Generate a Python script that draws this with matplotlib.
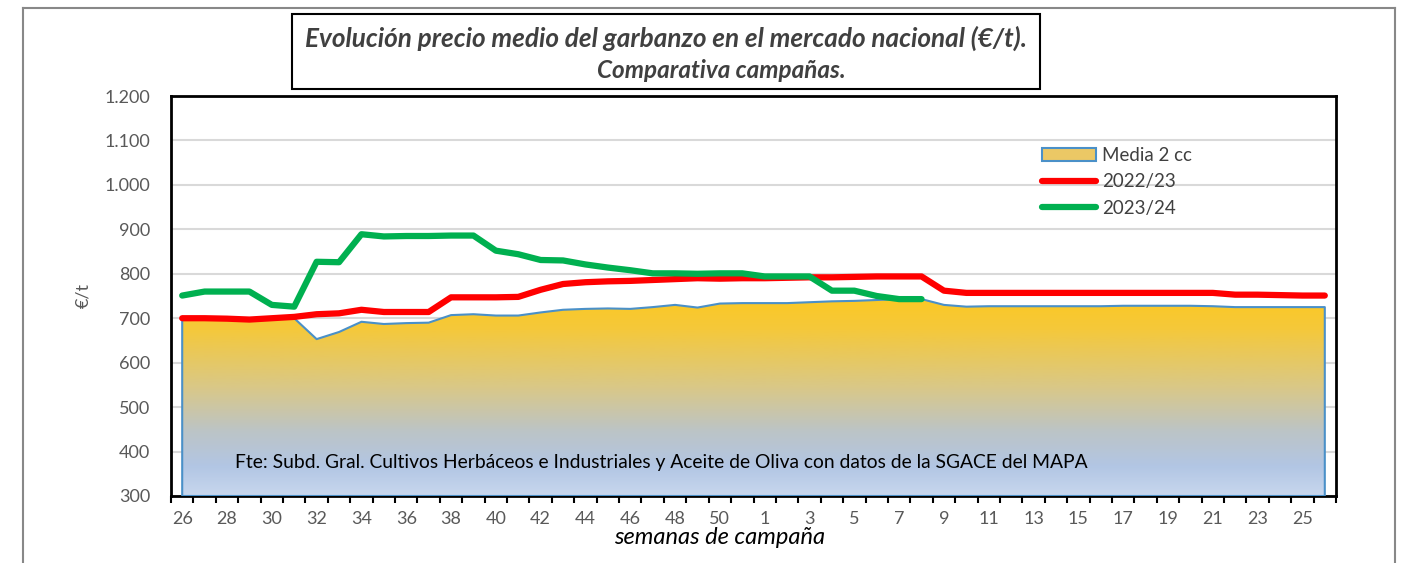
import matplotlib.pyplot as plt
import matplotlib.colors as mcolors
from matplotlib.patches import Rectangle, Patch
from matplotlib.lines import Line2D
import numpy as np

plt.rcParams['font.family'] = ['Lato', 'DejaVu Sans']

# semanas de campaña (26..51, 1..26)
semanas = list(range(26, 52)) + list(range(1, 27))

media_2cc = [700, 700, 700, 700, 700, 700, 653, 669, 692, 687, 689, 690,
             707, 709, 706, 706, 713, 719, 721, 722, 721, 725, 730, 724,
             733, 734, 734, 734, 736, 738, 739, 741, 743, 743, 730, 726,
             727, 727, 727, 727, 727, 727, 728, 728, 728, 728, 727,
             725, 725, 725, 725, 725]

c2022_23 = [700, 700, 699, 697, 700, 703, 709, 711, 719, 714, 714, 714,
            747, 747, 747, 748, 764, 777, 781, 783, 784, 786, 788, 790,
            789, 790, 790, 791, 792, 792, 793, 794, 794, 794, 762, 757,
            757, 757, 757, 757, 757, 757, 757, 757, 757, 757, 757,
            753, 753, 752, 751, 751]

c2023_24 = [751, 760, 760, 760, 730, 726, 827, 826, 889, 884, 885, 885,
            886, 886, 852, 844, 831, 830, 821, 814, 808, 801, 801, 800,
            801, 801, 794, 794, 794, 762, 762, 750, 743, 743]

yticks = list(range(300, 1201, 100))

x = np.arange(len(semanas))
green = np.full(len(semanas), np.nan)
green[:len(c2023_24)] = c2023_24

fig = plt.figure(figsize=(14.12, 5.63), dpi=100)
ax = fig.add_axes([171/1412, 1-496/563, (1336-171)/1412, (496-96)/563])

# area with gradient (yellow -> blue)
area = ax.fill_between(x, 300, media_2cc, facecolor='none',
                       edgecolor='#4a90c8', linewidth=1.5, zorder=3)
cmap = mcolors.LinearSegmentedColormap.from_list(
    'grad', [(0.0, '#c8d7ee'), (0.15, '#b2c6e4'), (0.33, '#bcc4c6'),
             (0.55, '#d9c888'), (0.85, '#f5c83a'), (1.0, '#fbc925')])
grad = np.linspace(0, 1, 256).reshape(-1, 1)
img = ax.imshow(grad, extent=[x[0], x[-1], 300, max(media_2cc)],
                origin='lower', aspect='auto', cmap=cmap, zorder=2)
img.set_clip_path(area.get_paths()[0], transform=ax.transData)

ax.plot(x, c2022_23, color='#ff0000', lw=4.5, solid_capstyle='round',
        zorder=4)
ax.plot(x, green, color='#00b050', lw=4.5, solid_capstyle='round',
        zorder=5)

ax.set_xlim(-0.5, len(semanas) - 0.5)
ax.set_ylim(300, 1200)
ax.set_yticks(yticks)
ax.set_yticklabels([f'{v:,}'.replace(',', '.') for v in yticks])
ax.set_xticks(x[::2])
ax.set_xticklabels([str(s) for s in semanas[::2]])
ax.set_xticks(np.arange(len(semanas) + 1) - 0.5, minor=True)
ax.tick_params(axis='x', which='major', length=0, pad=11,
               labelsize=13, labelcolor='#595959')
ax.tick_params(axis='x', which='minor', length=5, width=1.5,
               direction='out', color='black')
ax.tick_params(axis='y', length=0, pad=15, labelsize=13,
               labelcolor='#595959')
ax.grid(axis='y', color='#d9d9d9', lw=1.5, zorder=0)
ax.set_axisbelow(True)
for s in ax.spines.values():
    s.set_linewidth(2)
    s.set_color('black')

ax.text(0.055, 0.07, 'Fte: Subd. Gral. Cultivos Herbáceos e Industriales y '
        'Aceite de Oliva con datos de la SGACE del MAPA',
        transform=ax.transAxes, fontsize=13.9, color='black', zorder=6)

handles = [Patch(facecolor='#ebc865', edgecolor='#4a90c8', lw=1.5),
           Line2D([], [], color='#ff0000', lw=4.5, solid_capstyle='round'),
           Line2D([], [], color='#00b050', lw=4.5, solid_capstyle='round')]
ax.legend(handles, ['Media 2 cc', '2022/23', '2023/24'], frameon=False,
          loc='upper left', bbox_to_anchor=(0.733, 0.915), fontsize=13.5,
          labelcolor='#404040', handlelength=2.9, handletextpad=0.3,
          labelspacing=0.5)

# labels
fig.text(720/1412, 1-538/563, 'semanas de campaña', style='italic',
         fontsize=17, ha='center', va='center', color='black')
fig.text(83/1412, 1-295/563, '€/t', rotation=90, fontsize=13,
         ha='center', va='center', color='#595959')

# title box
fig.add_artist(Rectangle((292/1412, 1-89/563), (1040-292)/1412, 75/563,
                         transform=fig.transFigure, fill=False,
                         edgecolor='black', lw=1.5))
fig.text(666/1412, 1-38/563,
         'Evolución precio medio del garbanzo en el mercado nacional (€/t).',
         fontsize=18.8, fontweight='bold', style='italic', color='#404040',
         ha='center', va='center')
fig.text(721/1412, 1-70/563, 'Comparativa campañas.', fontsize=17.5,
         fontweight='bold', style='italic', color='#404040',
         ha='center', va='center')

# outer frame
for xs, ys in [([23, 23], [563, 8]), ([23, 1395], [8, 8]),
               ([1395, 1395], [8, 563])]:
    fig.add_artist(Line2D([v/1412 for v in xs], [1-v/563 for v in ys],
                          transform=fig.transFigure, color='#888888', lw=1.5))

fig.savefig('out.png', dpi=100)
